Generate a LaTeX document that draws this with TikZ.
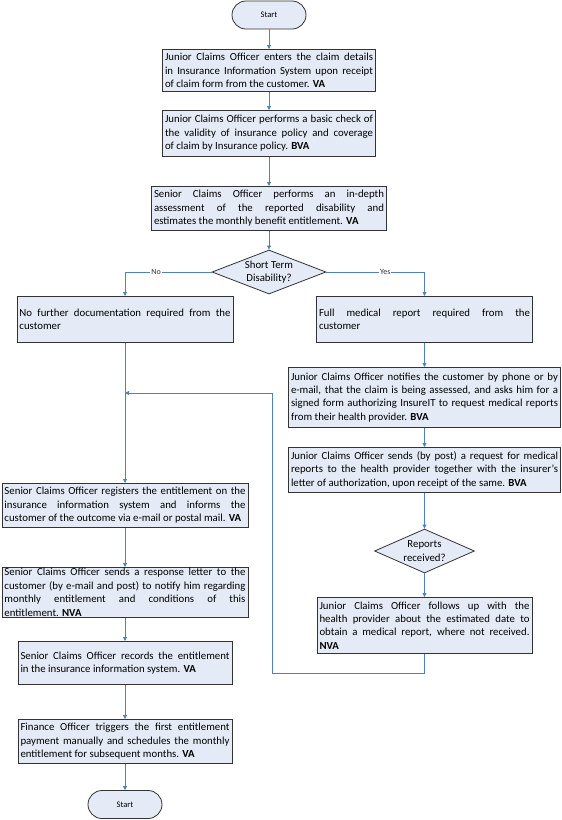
\documentclass[tikz,border=0pt]{standalone}
\usepackage{fontspec}
\setmainfont{Carlito}
\usepackage{tikz}
\usetikzlibrary{shapes.geometric,arrows.meta}
\definecolor{flow}{HTML}{4F81BD}
\definecolor{boxfill}{HTML}{E4EBF6}
\definecolor{edge}{HTML}{333333}
\hyphenpenalty=10000
\exhyphenpenalty=10000

\begin{document}
\begin{tikzpicture}[x=1pt,y=-1pt,
    task/.style={draw=edge,fill=boxfill,line width=0.8pt,anchor=north,align=justify,
      inner xsep=2.5pt,inner ysep=1pt,font=\fontsize{10.8pt}{13.4pt}\selectfont},
    terminal/.style={draw=edge,fill=boxfill,line width=0.8pt,rounded corners=14pt,
      minimum width=74pt,minimum height=28pt,font=\fontsize{8.5pt}{10pt}\selectfont},
    decision/.style={draw=edge,fill=boxfill,line width=0.8pt,diamond,aspect=2.6,inner sep=0pt,
      align=center,font=\fontsize{10.8pt}{13.4pt}\selectfont},
    link/.style={flow,line width=0.8pt,-{Triangle[length=4pt,width=4pt]}},
    tag/.style={fill=white,inner sep=1pt,text=black!80,font=\fontsize{8pt}{9pt}\selectfont}]
  \useasboundingbox (0,0) rectangle (562,820);
  \node[terminal] (start) at (269,15) {Start};
  \node[task,text width=208pt,minimum height=42pt] (enter) at (269,49)
    {Junior Claims Officer enters the claim details\linebreak in Insurance Information System upon receipt\linebreak of claim form from the customer. \textbf{VA}};
  \node[task,text width=208pt,minimum height=46pt] (check) at (269,110)
    {Junior Claims Officer performs a basic check of\linebreak the validity of insurance policy and coverage\linebreak of claim by Insurance policy. \textbf{BVA}};
  \node[task,text width=230pt,minimum height=44pt] (assess) at (269,186)
    {Senior Claims Officer performs an in-depth\linebreak assessment of the reported disability and\linebreak estimates the monthly benefit entitlement. \textbf{VA}};
  \node[decision,minimum width=114pt,minimum height=44pt] (shortterm) at (269,272) {Short Term\\Disability?};
  \node[task,text width=211pt,minimum height=46pt] (nodoc) at (125,296)
    {No further documentation required from the\linebreak customer};
  \node[task,text width=211pt,minimum height=46pt] (fullmed) at (424.5,296)
    {Full medical report required from the\linebreak customer};
  \node[task,text width=267pt,minimum height=60pt] (notify) at (424.5,367)
    {Junior Claims Officer notifies the customer by phone or by\linebreak e-mail, that the claim is being assessed, and asks him for a\linebreak signed form authorizing InsureIT to request medical reports\linebreak from their health provider. \textbf{BVA}};
  \node[task,text width=267pt,minimum height=45pt] (request) at (424.5,447)
    {Junior Claims Officer sends (by post) a request for medical\linebreak reports to the health provider together with the insurer's\linebreak letter of authorization, upon receipt of the same. \textbf{BVA}};
  \node[decision,minimum width=100pt,minimum height=44pt] (received) at (424.5,551) {Reports\\received?};
  \node[task,text width=210pt,minimum height=56pt] (followup) at (424.5,597)
    {Junior Claims Officer follows up with the\linebreak health provider about the estimated date to\linebreak obtain a medical report, where not received.\linebreak \textbf{NVA}};
  \node[task,text width=241pt,minimum height=44pt] (register) at (125,483)
    {Senior Claims Officer registers the entitlement on the\linebreak insurance information system and informs the\linebreak customer of the outcome via e-mail or postal mail. \textbf{VA}};
  \node[task,text width=241pt,minimum height=47pt] (letter) at (125,567)
    {Senior Claims Officer sends a response letter to the\linebreak customer (by e-mail and post) to notify him regarding\linebreak monthly entitlement and conditions of this\linebreak entitlement. \textbf{NVA}};
  \node[task,text width=209pt,minimum height=43pt] (records) at (125,641)
    {Senior Claims Officer records the entitlement\linebreak in the insurance information system. \textbf{VA}};
  \node[task,text width=209pt,minimum height=44pt] (finance) at (125,719)
    {Finance Officer triggers the first entitlement\linebreak payment manually and schedules the monthly\linebreak entitlement for subsequent months. \textbf{VA}};
  \node[terminal] (finish) at (125,804.5) {Start};
  \coordinate (loopturn) at (272,673);
  \coordinate (loopup) at (272,393);
  \coordinate (merge) at (125,393);
  \draw[link] (start) -- (enter);
  \draw[link] (enter) -- (check);
  \draw[link] (check) -- (assess);
  \draw[link] (assess) -- (shortterm);
  \draw[link] (shortterm.west) -| node[tag,pos=0.32] {No} (nodoc.north);
  \draw[link] (shortterm.east) -| node[tag,pos=0.3] {Yes} (fullmed.north);
  \draw[link] (nodoc) -- (register);
  \draw[link] (fullmed) -- (notify);
  \draw[link] (notify) -- (request);
  \draw[link] (request) -- (received);
  \draw[link] (received) -- (followup);
  \draw[link] (followup.south) |- (loopturn) -- (loopup) -- (merge);
  \draw[link] (register) -- (letter);
  \draw[link] (letter) -- (records);
  \draw[link] (records) -- (finance);
  \draw[link] (finance) -- (finish);
\end{tikzpicture}
\end{document}
